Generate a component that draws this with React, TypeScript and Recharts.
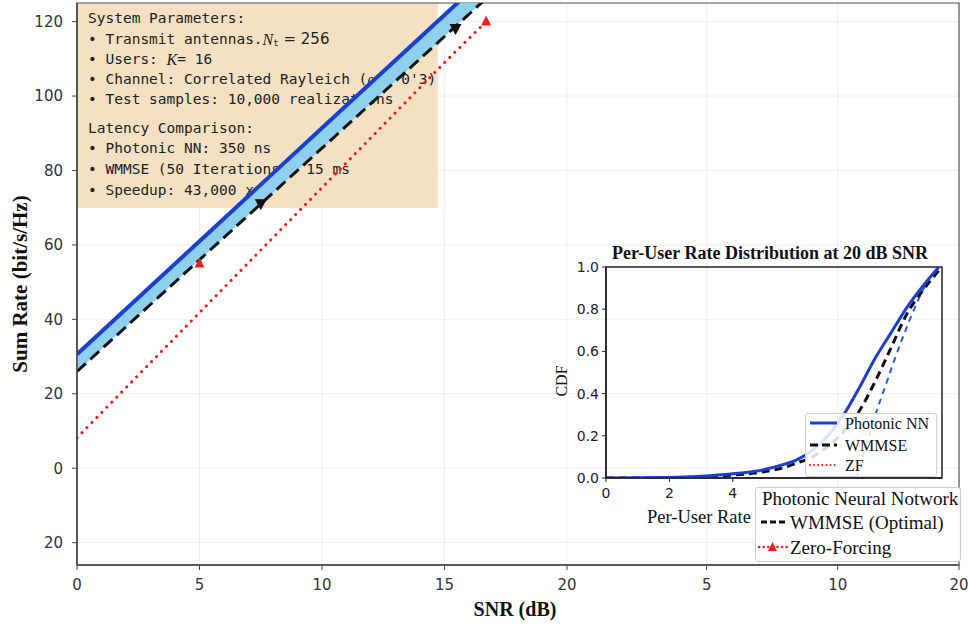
import React from 'react';
import {
  ComposedChart,
  LineChart,
  Line,
  Area,
  Scatter,
  XAxis,
  YAxis,
  CartesianGrid,
  ReferenceArea,
  Legend,
  Label,
} from 'recharts';

// ---------- main chart data ----------
const snrDb = [0, 2.5, 5, 7.5, 10, 12.5, 15, 17.5];
const photonicRate = [30.6, 45.8, 61.0, 76.2, 91.4, 106.6, 121.8, 137.0];
const wmmseRate = [26.0, 41.0, 56.0, 71.0, 86.0, 101.0, 116.0, 131.0];
const zfSnr = [0, 2.5, 5, 7.5, 10, 12.5, 15, 16.7];
const zfRate = [8.2, 25.0, 41.8, 58.6, 75.4, 92.2, 109.0, 120.0];
const wmmseMarkerSnr = [7.5, 15.45];
const wmmseMarkerRate = [70.9, 118.0];
const zfMarkerSnr = [5, 16.7];
const zfMarkerRate = [55, 120];

const xTickPos = [0, 5, 10, 15, 20, 25.7, 31.05, 36];
const xTickLabels = ['0', '5', '10', '15', '20', '5', '10', '20'];
const yTickPos = [-20, 0, 20, 40, 60, 80, 100, 120];
const yTickLabels = ['20', '0', '20', '40', '60', '80', '100', '120'];

// ---------- inset (CDF) data ----------
const pnnRates = [0, 2, 3, 4, 5, 5.5, 6, 6.5, 7, 7.5, 8, 8.5, 9, 9.5, 10, 10.5];
const pnnCdf = [0, 0.002, 0.008, 0.02, 0.04, 0.06, 0.085, 0.13, 0.2, 0.3, 0.43, 0.57, 0.69, 0.81, 0.91, 1.0];
const wmmseRates = [0, 2, 3, 4, 5, 5.5, 6, 6.5, 7, 7.5, 8, 8.5, 9, 9.5, 10, 10.6];
const wmmseCdf = [0, 0.001, 0.005, 0.014, 0.03, 0.045, 0.07, 0.1, 0.15, 0.22, 0.32, 0.46, 0.62, 0.78, 0.89, 1.0];
const zfRates = [7.9, 8.2, 8.5, 8.8, 9.1, 9.45, 9.75, 10.1, 10.5];
const zfCdf = [0, 0.15, 0.3, 0.43, 0.56, 0.7, 0.81, 0.92, 1.0];
const cdfTicks = [0, 0.2, 0.4, 0.6, 0.8, 1.0];
const rateTicks = [0, 2, 4];

const infoLines = [
  'System Parameters:',
  '• Transmit antennas.',
  '• Users: ',
  '• Channel: Correlated Rayleich (',
  '• Test samples: 10,000 realizations',
  'Latency Comparison:',
  '• Photonic NN: 350 ns',
  '• WMMSE (50 Iterations): 15 ms',
  '• Speedup: 43,000 x',
];

const mainData = snrDb.map((s, i) => ({
  snr: s,
  photonic: photonicRate[i],
  wmmse: wmmseRate[i],
  band: [wmmseRate[i], photonicRate[i]],
}));
const zfData = zfSnr.map((s, i) => ({ snr: s, zf: zfRate[i] }));
const wmmseMarkers = wmmseMarkerSnr.map((s, i) => ({ snr: s, rate: wmmseMarkerRate[i] }));
const zfMarkers = zfMarkerSnr.map((s, i) => ({ snr: s, rate: zfMarkerRate[i] }));

const pnnData = pnnRates.map((r, i) => ({ rate: r, cdf: pnnCdf[i] }));
const wmmseCdfData = wmmseRates.map((r, i) => ({ rate: r, cdf: wmmseCdf[i] }));
const zfCdfData = zfRates.map((r, i) => ({ rate: r, cdf: zfCdf[i] }));

const BLUE = '#1b3fd2';
const BAND = '#8fd0ee';
const RED = '#e8201e';
const SERIF = '"Liberation Serif", "Times New Roman", serif';
const SANS = '"DejaVu Sans", sans-serif';
const MONO = '"DejaVu Sans Mono", monospace';

const InfoBox = (props: any) => {
  const vb = props.viewBox || { x: 0, y: 0 };
  const x = vb.x + 11;
  const ys = [15, 36, 56, 76, 96, 125, 145, 166, 187].map((d) => vb.y + d);
  const common = { fontFamily: MONO, fontSize: 14.5, fill: '#222', dominantBaseline: 'central' as const };
  return (
    <g>
      <text x={x} y={ys[0]} {...common}>{infoLines[0]}</text>
      <text x={x} y={ys[1]} {...common}>
        {infoLines[1]}
        <tspan fontFamily={SERIF} fontStyle="italic" fontSize={16}>N</tspan>
        <tspan fontSize={9} dy={4}>t</tspan>
        <tspan dy={-4} fontFamily={SANS} fontSize={15}> = 256</tspan>
      </text>
      <text x={x} y={ys[2]} {...common}>
        {infoLines[2]}
        <tspan fontFamily={SERIF} fontStyle="italic" fontSize={16}>K</tspan>
        <tspan>= 16</tspan>
      </text>
      <text x={x} y={ys[3]} {...common}>
        {infoLines[3]}
        <tspan fontFamily={SERIF} fontStyle="italic" fontSize={16}>ρ</tspan>
        <tspan> = 0'3)</tspan>
      </text>
      {infoLines.slice(4).map((t, i) => (
        <text key={i} x={x} y={ys[4 + i]} {...common}>{t}</text>
      ))}
    </g>
  );
};

const DownTriangle = (props: any) => {
  const { cx, cy } = props;
  if (cx == null || cy == null) return null;
  return <path d={`M${cx - 6},${cy - 5} L${cx + 6},${cy - 5} L${cx},${cy + 6} Z`} fill="#111" />;
};
const UpTriangle = (props: any) => {
  const { cx, cy } = props;
  if (cx == null || cy == null) return null;
  return <path d={`M${cx - 5},${cy + 4} L${cx + 5},${cy + 4} L${cx},${cy - 6} Z`} fill={RED} />;
};

const MainLegend = () => (
  <div
    style={{
      width: 206,
      height: 75,
      background: 'rgba(255,255,255,0.95)',
      border: '1px solid #cfcfcf',
      borderRadius: 3,
      boxSizing: 'border-box',
    }}
  >
    <svg width={206} height={75} style={{ position: 'absolute', left: 0, top: 0 }}>
      <text x={7} y={11} fontFamily={SERIF} fontSize={19} fill="#111" dominantBaseline="central">
        Photonic Neural Notwork
      </text>
      <line x1={6} y1={35} x2={31} y2={35} stroke="#111" strokeWidth={3} strokeDasharray="6 3" />
      <text x={35} y={35} fontFamily={SERIF} fontSize={19} fill="#111" dominantBaseline="central">
        WMMSE (Optimal)
      </text>
      <line x1={4} y1={60} x2={32} y2={60} stroke={RED} strokeWidth={2.5} strokeDasharray="0.1 4.5" strokeLinecap="round" />
      <path d="M13,64 L22,64 L17.5,55 Z" fill={RED} />
      <text x={35} y={60} fontFamily={SERIF} fontSize={19} fill="#111" dominantBaseline="central">
        Zero-Forcing
      </text>
    </svg>
  </div>
);

const InsetLegend = () => (
  <div
    style={{
      width: 132,
      height: 64,
      background: 'rgba(255,255,255,0.85)',
      border: '1px solid #cfcfcf',
      borderRadius: 3,
      boxSizing: 'border-box',
    }}
  >
    <svg width={132} height={64} style={{ position: 'absolute', left: 0, top: 0 }}>
      <line x1={5} y1={10} x2={32} y2={10} stroke={BLUE} strokeWidth={3} />
      <text x={40} y={10} fontFamily={SERIF} fontSize={16} fill="#111" dominantBaseline="central">Photonic NN</text>
      <line x1={5} y1={32} x2={32} y2={32} stroke="#111" strokeWidth={3} strokeDasharray="8 4" />
      <text x={40} y={32} fontFamily={SERIF} fontSize={16} fill="#111" dominantBaseline="central">WMMSE</text>
      <line x1={5} y1={52} x2={32} y2={52} stroke={RED} strokeWidth={2} strokeDasharray="0.1 4" strokeLinecap="round" />
      <text x={40} y={52} fontFamily={SERIF} fontSize={16} fill="#111" dominantBaseline="central">ZF</text>
    </svg>
  </div>
);

const YLabel = () => (
  <text
    x={20}
    y={284}
    transform="rotate(-90 20 284)"
    textAnchor="middle"
    dominantBaseline="central"
    fontFamily={SERIF}
    fontWeight="bold"
    fontSize={21}
    fill="#111"
  >
    Sum Rate (bit/s/Hz)
  </text>
);
const XLabel = () => (
  <text x={515} y={609} textAnchor="middle" dominantBaseline="central" fontFamily={SERIF} fontWeight="bold" fontSize={20} fill="#111">
    SNR (dB)
  </text>
);

const InsetTitle = (props: any) => {
  const vb = props.viewBox || { x: 0, y: 0, width: 0 };
  return (
    <text x={vb.x + vb.width / 2 - 4} y={vb.y - 14} textAnchor="middle" dominantBaseline="central" fontFamily={SERIF} fontWeight="bold" fontSize={18} fill="#111">
      Per-User Rate Distribution at 20 dB SNR
    </text>
  );
};
const InsetYLabel = () => (
  <text x={16} y={143} transform="rotate(-90 16 143)" textAnchor="middle" dominantBaseline="central" fontFamily={SERIF} fontSize={16} fill="#111">
    CDF
  </text>
);
const InsetXLabel = () => (
  <text x={102} y={279} textAnchor="start" dominantBaseline="central" fontFamily={SERIF} fontSize={18.5} fill="#111">
    Per-User Rate
  </text>
);

export default function App() {
  return (
    <div style={{ position: 'absolute', left: 0, top: 0, width: 969, height: 629, background: '#fff' }}>
      <ComposedChart width={969} height={629} margin={{ top: 3, right: 10, left: 0, bottom: 0 }}>
        <CartesianGrid stroke="#efefef" strokeWidth={1} />
        <XAxis
          dataKey="snr"
          type="number"
          domain={[0, 36]}
          ticks={xTickPos}
          tickFormatter={(v: number) => xTickLabels[xTickPos.indexOf(v)]}
          allowDataOverflow
          height={64}
          tickSize={5}
          tickMargin={9}
          tick={{ fontFamily: SANS, fontSize: 15, fill: '#333' }}
          axisLine={{ stroke: '#444', strokeWidth: 1.5 }}
          tickLine={{ stroke: '#444' }}
        >
          <Label content={<XLabel />} />
        </XAxis>
        <YAxis
          type="number"
          domain={[-26, 125]}
          ticks={yTickPos}
          tickFormatter={(v: number) => yTickLabels[yTickPos.indexOf(v)]}
          allowDataOverflow
          width={77}
          tickSize={5}
          tickMargin={9}
          tick={{ fontFamily: SANS, fontSize: 15, fill: '#333' }}
          axisLine={{ stroke: '#444', strokeWidth: 1.5 }}
          tickLine={{ stroke: '#444' }}
        >
          <Label content={<YLabel />} />
        </YAxis>
        <ReferenceArea x1={0} x2={14.73} y1={69.9} y2={125} fill="#f4e1c3" fillOpacity={1} stroke="none" label={<InfoBox />} />
        <ReferenceArea x1={0} x2={36} y1={-26} y2={125} fill="none" stroke="#555" strokeWidth={1.2} />
        <Area data={mainData} dataKey="band" stroke="none" fill={BAND} fillOpacity={1} isAnimationActive={false} />
        <Line data={mainData} dataKey="photonic" stroke={BLUE} strokeWidth={4} dot={false} isAnimationActive={false} />
        <Line data={mainData} dataKey="wmmse" stroke="#111" strokeWidth={3} strokeDasharray="12 6" dot={false} isAnimationActive={false} />
        <Line data={zfData} dataKey="zf" stroke={RED} strokeWidth={3} strokeDasharray="0.1 7" strokeLinecap="round" dot={false} isAnimationActive={false} />
        <Scatter data={wmmseMarkers} dataKey="rate" shape={<DownTriangle />} isAnimationActive={false} />
        <Scatter data={zfMarkers} dataKey="rate" shape={<UpTriangle />} isAnimationActive={false} />
        <Legend
          layout="vertical"
          align="center"
          verticalAlign="middle"
          content={<MainLegend />}
          wrapperStyle={{ position: 'absolute', left: 755, top: 487, width: 206, height: 75, zIndex: 5 }}
        />
      </ComposedChart>

      <div style={{ position: 'absolute', left: 545, top: 238, width: 410, height: 325, zIndex: 2 }}>
        <LineChart width={410} height={325} margin={{ top: 29, right: 13, left: 0, bottom: 0 }}>
          <XAxis
            dataKey="rate"
            type="number"
            domain={[0, 10.6]}
            ticks={rateTicks}
            allowDataOverflow
            height={85}
            tickSize={4}
            tickMargin={6}
            tick={{ fontFamily: SANS, fontSize: 14, fill: '#222' }}
            axisLine={{ stroke: '#222', strokeWidth: 1.5 }}
            tickLine={{ stroke: '#222' }}
          >
            <Label content={<InsetXLabel />} />
          </XAxis>
          <YAxis
            type="number"
            domain={[0, 1]}
            ticks={cdfTicks}
            tickFormatter={(v: number) => v.toFixed(1)}
            allowDataOverflow
            width={61}
            tickSize={4}
            tickMargin={3}
            tick={{ fontFamily: SANS, fontSize: 14, fill: '#222' }}
            axisLine={{ stroke: '#222', strokeWidth: 1.5 }}
            tickLine={{ stroke: '#222' }}
          >
            <Label content={<InsetYLabel />} />
          </YAxis>
          <ReferenceArea x1={0} x2={10.6} y1={0} y2={1} fill="none" stroke="#222" strokeWidth={1.5} label={<InsetTitle />} />
          <Line data={zfCdfData} dataKey="cdf" type="monotone" stroke="#2a5bdc" strokeWidth={2} strokeDasharray="6 5" dot={false} isAnimationActive={false} />
          <Line data={wmmseCdfData} dataKey="cdf" type="monotone" stroke="#111" strokeWidth={3} strokeDasharray="8 5" dot={false} isAnimationActive={false} />
          <Line data={pnnData} dataKey="cdf" type="monotone" stroke={BLUE} strokeWidth={3} dot={false} isAnimationActive={false} />
          <Legend
            layout="vertical"
            align="center"
            verticalAlign="middle"
            content={<InsetLegend />}
            wrapperStyle={{ position: 'absolute', left: 260, top: 175, width: 132, height: 64 }}
          />
        </LineChart>
      </div>
    </div>
  );
}
